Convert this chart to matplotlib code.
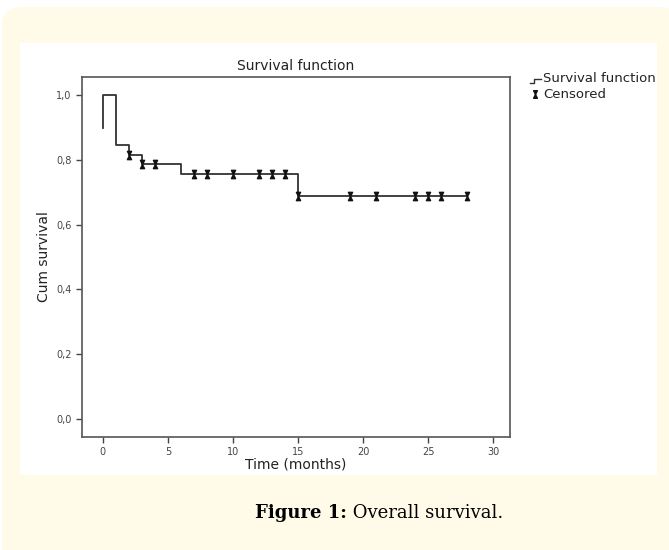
import matplotlib.pyplot as plt
import numpy as np
from matplotlib.patches import FancyBboxPatch, Rectangle
from matplotlib.path import Path
from matplotlib.lines import Line2D

# Kaplan-Meier steps
step_time = [0, 0, 1, 1, 2, 2, 3, 3, 6, 6, 15, 15, 28]
step_surv = [0.90, 1.0, 1.0, 0.845, 0.845, 0.815, 0.815, 0.787, 0.787, 0.757, 0.757, 0.689, 0.689]

# censored observations
cens_time = [2, 3, 4, 7, 8, 10, 12, 13, 14, 15, 19, 21, 24, 25, 26, 28]
cens_surv = [0.815, 0.787, 0.787, 0.757, 0.757, 0.757, 0.757, 0.757, 0.757,
             0.689, 0.689, 0.689, 0.689, 0.689, 0.689, 0.689]

x_ticks = [0, 5, 10, 15, 20, 25, 30]
y_ticks = [0.0, 0.2, 0.4, 0.6, 0.8, 1.0]
y_tick_labels = ['0,0', '0,2', '0,4', '0,6', '0,8', '1,0']

W, H = 669, 550
fig = plt.figure(figsize=(W / 100, H / 100), dpi=100)
fig.patch.set_facecolor('white')

# cream rounded panel and white plot area
panel = FancyBboxPatch((2 / W, -0.05), (W + 10) / W, (H - 7) / H + 0.05,
                       boxstyle='round,pad=0,rounding_size=0.03',
                       transform=fig.transFigure, facecolor='#fffbe8',
                       edgecolor='none', zorder=-2, mutation_aspect=W / H)
fig.add_artist(panel)
fig.add_artist(Rectangle((20 / W, (H - 475) / H), 637 / W, 432 / H,
                         transform=fig.transFigure, facecolor='white',
                         edgecolor='none', zorder=-1))

ax = fig.add_axes([82 / W, (H - 437) / H, 428 / W, 360 / H])
ax.set_zorder(2)
ax.set_facecolor('white')

# narrow hourglass used by SPSS for censored cases
hourglass = Path([(-0.5, 1), (0.5, 1), (-0.5, -1), (0.5, -1), (-0.5, 1)],
                 [Path.MOVETO, Path.LINETO, Path.LINETO, Path.LINETO, Path.CLOSEPOLY])

ax.plot(step_time, step_surv, color='#333333', lw=1.3)
ax.plot(cens_time, cens_surv, linestyle='none', marker=hourglass,
        markersize=6, color='#111111')

ax.set_xlim(-1.6, 31.3)
ax.set_ylim(-0.056, 1.056)
ax.set_xticks(x_ticks)
ax.set_yticks(y_ticks)
ax.set_yticklabels(y_tick_labels)
ax.tick_params(labelsize=7, colors='#444444', length=4, width=1)
for s in ax.spines.values():
    s.set_color('#555555')
    s.set_linewidth(1.2)

ax.set_title('Survival function', fontsize=10, color='#222222', pad=5)
ax.set_xlabel('Time (months)', fontsize=10, color='#222222', labelpad=0)
ax.set_ylabel('Cum survival', fontsize=10, color='#222222', labelpad=4)

# legend outside on the right
lx = 530 / W
fig.add_artist(Line2D([lx, lx + 4 / W, lx + 4 / W, lx + 11 / W],
                      [(H - 83) / H, (H - 83) / H, (H - 79) / H, (H - 79) / H],
                      transform=fig.transFigure, color='#333333', lw=1))
fig.text(543 / W, (H - 79) / H, 'Survival function', fontsize=9.5,
         color='#222222', va='center')
fig.add_artist(Line2D([lx + 5 / W], [(H - 94) / H], transform=fig.transFigure,
                      marker=hourglass, markersize=5.5, color='#111111',
                      linestyle='none'))
fig.text(543 / W, (H - 94) / H, 'Censored', fontsize=9.5,
         color='#222222', va='center')

# caption
fig.text(347 / W, (H - 513) / H, 'Figure 1:', fontsize=13, fontweight='bold',
         ha='right', va='center', family='DejaVu Serif')
fig.text(347 / W, (H - 513) / H, ' Overall survival.', fontsize=13,
         ha='left', va='center', family='DejaVu Serif')

fig.savefig('out.png', dpi=100)
